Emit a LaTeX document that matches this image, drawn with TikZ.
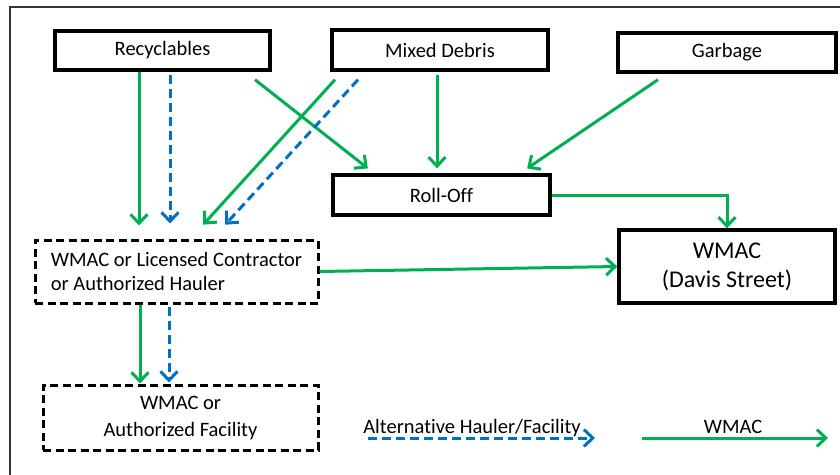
\documentclass[tikz,border=0pt]{standalone}
\usepackage{fontspec}
\setmainfont{Carlito}[Ligatures=NoCommon]
\usetikzlibrary{arrows.meta}
\definecolor{wmacgreen}{RGB}{0,176,80}
\definecolor{altblue}{RGB}{0,112,192}
\begin{document}
\begin{tikzpicture}
[x=1pt,y=-1pt,
  boxdecorate/.style={shape=rectangle,draw,line width=3.4pt,inner sep=0pt,
    font=\fontsize{20.5}{24}\selectfont,align=center},%
  dashdecorate/.style={boxdecorate,line width=3pt,dash pattern=on 8pt off 4.5pt},%
  greenline/.style={draw=wmacgreen,line width=3pt,
    -{Straight Barb[length=9pt,width=17pt]}},%
  blueline/.style={draw=altblue,line width=3pt,dash pattern=on 9pt off 5pt,
    -{Straight Barb[length=9pt,width=17pt]}},%
  legendtext/.style={font=\fontsize{20.5}{24}\selectfont,anchor=base,inner sep=0pt}]
\path[use as bounding box] (0,0) rectangle (840,474);
\clip (0,0) rectangle (840,474);
%% outer frame
\draw[line width=1.2pt,black!80] (10,490) -- (10,7) -- (860,7);
%% boxes
\foreach \nodename/\x/\y/\w/\h/\txt in {recy/162.5/50.5/215/39/Recyclables,
  mixed/440/50/216/40/Mixed Debris, garb/727/52.5/218/39/Garbage,
  roll/441.5/195/217/40/Roll-Off} {
  \node (\nodename) at (\x,\y) [boxdecorate,minimum width=\w pt,minimum height=\h pt] {\txt};
}
\node (davis) at (727,266.5) [boxdecorate,minimum width=216pt,minimum height=73pt,
  font=\fontsize{24}{29}\selectfont] {WMAC\\(Davis Street)};
\node (haul) at (176.5,271.5) [dashdecorate,minimum width=283pt,minimum height=63pt,
  align=left] {WMAC or Licensed Contractor\\or Authorized Hauler};
\node (facil) at (180.5,417.5) [dashdecorate,minimum width=275pt,minimum height=65pt,
  font=\fontsize{20.5}{27}\selectfont] {WMAC or\\Authorized Facility};
%% edges or lines
\path
\foreach \startnode/\sx/\sy/\endnode/\ex/\sh in {recy/-23.5/0/haul/-37.5/13,
  mixed/-105/-8/haul/14.1/18.7, recy/92.5/-8/roll/-67.4/7.9,
  mixed/-3/-3/roll/-4.5/5, garb/-69/-6/roll/78.4/8.7, haul/-36.5/0/facil/-40.5/0} {
  ([xshift=\sx pt,yshift=\sy pt]\startnode.south) edge[greenline,shorten >=\sh pt]
    ([xshift=\ex pt]\endnode.north)
};
\path
\foreach \startnode/\sx/\sy/\endnode/\ex/\sh in {recy/7.5/-3/haul/-6.5/15,
  mixed/-82/-8/haul/36/18.7, haul/-7.5/-2/facil/-11.5/1} {
  ([xshift=\sx pt,yshift=\sy pt]\startnode.south) edge[blueline,shorten >=\sh pt]
    ([xshift=\ex pt]\endnode.north)
};
\draw[greenline] (roll.east) -| (davis.north);
\draw[greenline] (haul.east) -- (davis.west);
%% legend
\coordinate (altstart) at (368,438);
\coordinate (altend) at (595,438);
\coordinate (wmacstart) at (642,438);
\coordinate (wmacend) at (828,438);
\draw[blueline] (altstart) -- (altend);
\draw[greenline] (wmacstart) -- (wmacend);
\node (alttext) at (472,433) [legendtext] {Alternative Hauler/Facility};
\node (wmactext) at (733,433) [legendtext] {WMAC};
\end{tikzpicture}
\end{document}
